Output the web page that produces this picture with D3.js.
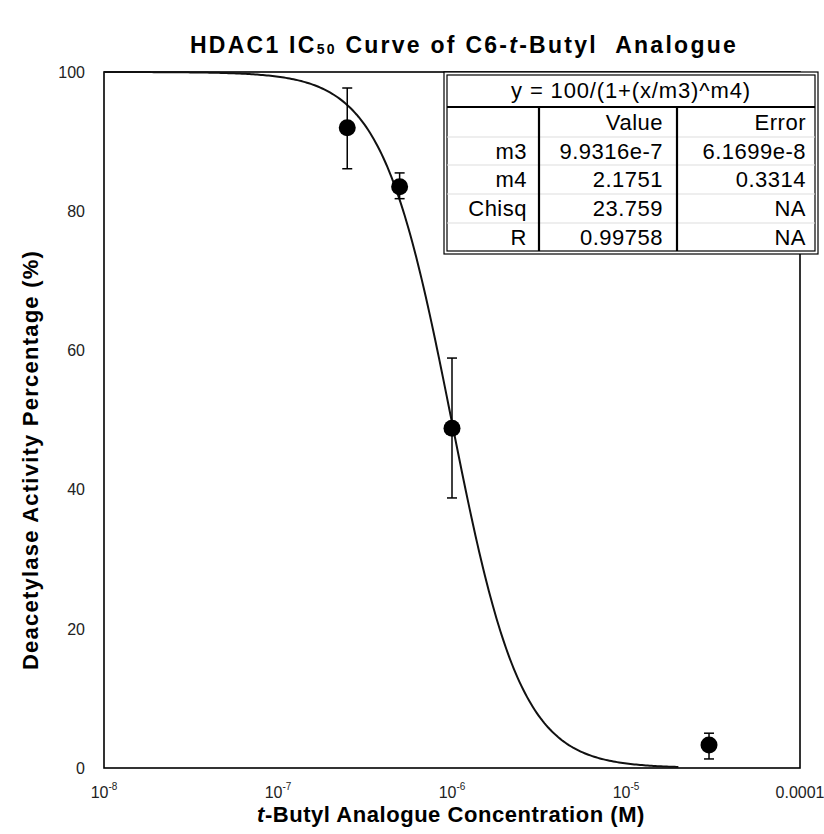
<!DOCTYPE html>
<html><head><meta charset="utf-8">
<script src="https://cdn.jsdelivr.net/npm/d3@7"></script>
<style>body{margin:0;background:#fff} svg{display:block;font-family:"Liberation Sans",Arial,Helvetica,sans-serif}</style>
</head><body><svg id="chart" width="824" height="834"></svg>
<script>
// ---- data ----
const concentrations = [2.5e-7, 5e-7, 1e-6, 3e-5];
const activity = [92, 83.5, 48.8, 3.3];
const errLow = [86.1, 81.8, 38.8, 1.3];
const errHigh = [97.7, 85.5, 58.9, 5.0];
const yTicks = [0, 20, 40, 60, 80, 100];
const xTicks = [1e-8, 1e-7, 1e-6, 1e-5, 1e-4];
const xTickBase = ["10", "10", "10", "10", "0.0001"];
const xTickExp = ["-8", "-7", "-6", "-5", ""];
const fitM3 = 9.9316e-7;
const fitM4 = 2.1751;
const fitRange = [1e-8, 2e-5];
const tableTitle = "y = 100/(1+(x/m3)^m4)";
const tableHeader = ["", "Value", "Error"];
const tableNames = ["m3", "m4", "Chisq", "R"];
const tableValues = ["9.9316e-7", "2.1751", "23.759", "0.99758"];
const tableErrors = ["6.1699e-8", "0.3314", "NA", "NA"];

// ---- layout ----
const svg = d3.select("#chart");
const L = 104, R = 800, T = 72, B = 768;
const x = d3.scaleLog().domain([1e-8, 1e-4]).range([L, R]);
const y = d3.scaleLinear().domain([0, 100]).range([B, T]);

function fitWidth(sel, target) {
  const node = sel.node();
  const len = node.getComputedTextLength();
  const n = node.textContent.length;
  sel.attr("letter-spacing", ((target - len) / n).toFixed(2));
}

// title
const title = svg.append("text").attr("x", 464).attr("y", 53).attr("text-anchor", "middle")
  .attr("font-weight", "bold").attr("font-size", 23).attr("fill", "#000");
title.append("tspan").text("HDAC1 IC");
title.append("tspan").attr("font-size", 14).attr("dy", 1).text("50");
title.append("tspan").attr("dy", -1).text(" Curve of C6-");
title.append("tspan").attr("font-style", "italic").text("t");
title.append("tspan").text("-Butyl\u00a0\u00a0Analogue");
fitWidth(title, 548);

// plot frame
svg.append("rect").attr("x", L).attr("y", T).attr("width", R - L).attr("height", B - T)
  .attr("fill", "none").attr("stroke", "#000").attr("stroke-width", 1.6);

// y tick labels
svg.append("g").selectAll("text").data(yTicks).join("text")
  .attr("x", 85).attr("y", d => y(d)).attr("dy", "0.36em").attr("text-anchor", "end")
  .attr("font-size", 16).attr("fill", "#222").text(d => d);

// x tick labels
const xl = svg.append("g").selectAll("text").data(xTicks).join("text")
  .attr("x", d => x(d)).attr("y", 798).attr("text-anchor", "middle")
  .attr("font-size", 16).attr("fill", "#222");
xl.append("tspan").text((d, i) => xTickBase[i]);
xl.append("tspan").attr("font-size", 10).attr("dy", -8).text((d, i) => xTickExp[i]);

// axis titles
const xt = svg.append("text").attr("x", 451).attr("y", 822).attr("text-anchor", "middle")
  .attr("font-weight", "bold").attr("font-size", 22);
xt.append("tspan").attr("font-style", "italic").text("t");
xt.append("tspan").text("-Butyl Analogue Concentration (M)");
fitWidth(xt, 388);

const yt = svg.append("text").attr("transform", "translate(38,460) rotate(-90)").attr("text-anchor", "middle")
  .attr("font-weight", "bold").attr("font-size", 22).text("Deacetylase Activity Percentage (%)");
fitWidth(yt, 420);

// fit curve from fitted parameters
const lx = d3.scaleLog().domain(fitRange);
const curveX = d3.range(0, 301).map(i => lx.invert(i / 300));
const line = d3.line().x(d => x(d)).y(d => y(100 / (1 + Math.pow(d / fitM3, fitM4))));
svg.append("path").datum(curveX).attr("d", line).attr("fill", "none")
  .attr("stroke", "#111").attr("stroke-width", 2);

// error bars
const eb = svg.append("g").attr("stroke", "#000").attr("stroke-width", 1.5);
concentrations.forEach((c, i) => {
  const cx = x(c);
  eb.append("line").attr("x1", cx).attr("x2", cx).attr("y1", y(errLow[i])).attr("y2", y(errHigh[i]));
  eb.append("line").attr("x1", cx - 5).attr("x2", cx + 5).attr("y1", y(errLow[i])).attr("y2", y(errLow[i]));
  eb.append("line").attr("x1", cx - 5).attr("x2", cx + 5).attr("y1", y(errHigh[i])).attr("y2", y(errHigh[i]));
});
// points
svg.append("g").selectAll("circle").data(concentrations).join("circle")
  .attr("cx", d => x(d)).attr("cy", (d, i) => y(activity[i])).attr("r", 8.5).attr("fill", "#000");

// ---- parameter table ----
const tx0 = 444, tx1 = 818, ty0 = 72, ty1 = 254;
const colX = [447, 539, 677, 815];
const rowY = [107, 137, 165, 194, 223, 251];
const tg = svg.append("g");
tg.append("rect").attr("x", tx0).attr("y", ty0).attr("width", tx1 - tx0).attr("height", ty1 - ty0)
  .attr("fill", "#fff").attr("stroke", "#000").attr("stroke-width", 1.2);
tg.append("rect").attr("x", tx0 + 3).attr("y", ty0 + 3).attr("width", tx1 - tx0 - 6).attr("height", ty1 - ty0 - 6)
  .attr("fill", "none").attr("stroke", "#000").attr("stroke-width", 1.2);
[137, 165, 194, 223].forEach(yy => {
  tg.append("line").attr("x1", colX[0]).attr("x2", colX[3]).attr("y1", yy).attr("y2", yy)
    .attr("stroke", "#ddd").attr("stroke-width", 1);
});
tg.append("line").attr("x1", colX[0]).attr("x2", colX[3]).attr("y1", rowY[0]).attr("y2", rowY[0])
  .attr("stroke", "#000").attr("stroke-width", 2.2);
[colX[1], colX[2]].forEach(cx => {
  tg.append("line").attr("x1", cx).attr("x2", cx).attr("y1", rowY[0]).attr("y2", 251)
    .attr("stroke", "#000").attr("stroke-width", 2.2);
});
const tt = tg.append("text").attr("x", (tx0 + tx1) / 2).attr("y", 90).attr("dy", "0.35em").attr("text-anchor", "middle")
  .attr("font-size", 22).text(tableTitle);
fitWidth(tt, 240);
const rightEdges = [527, 663, 806];
const cellSpacing = 0.5;
tableHeader.forEach((h, j) => {
  tg.append("text").attr("x", rightEdges[j]).attr("y", 122).attr("dy", "0.35em").attr("text-anchor", "end")
    .attr("font-size", 22).attr("letter-spacing", cellSpacing).text(h);
});
tableNames.forEach((n, i) => {
  const cy = (rowY[i + 1] + rowY[i + 2]) / 2;
  [n, tableValues[i], tableErrors[i]].forEach((t, j) => {
    tg.append("text").attr("x", rightEdges[j]).attr("y", cy).attr("dy", "0.35em").attr("text-anchor", "end")
      .attr("font-size", 22).attr("letter-spacing", cellSpacing).text(t);
  });
});
</script></body></html>
